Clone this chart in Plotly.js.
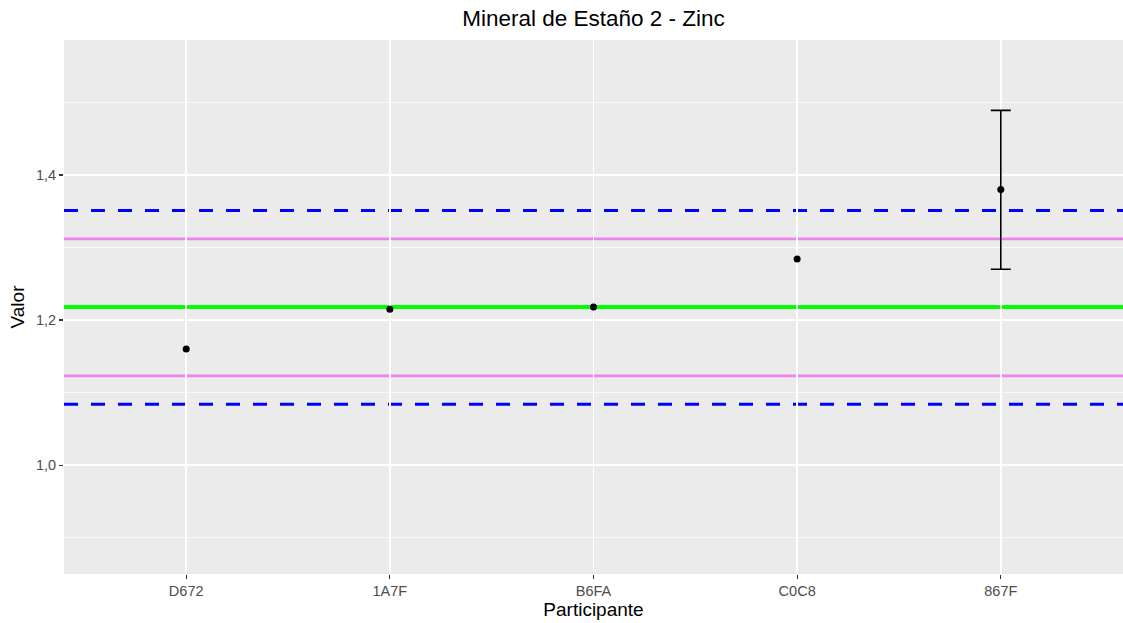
<!DOCTYPE html>
<html><head><meta charset="utf-8">
<script src="https://cdn.plot.ly/plotly-3.0.1.min.js"></script>
<style>html,body{margin:0;padding:0;background:#fff}#plot{width:1123px;height:623px}</style>
</head><body><div id="plot"></div>
<script>
const participants = ["D672", "1A7F", "B6FA", "C0C8", "867F"];
const values = [1.160, 1.215, 1.218, 1.284, 1.380];
const errPlus = [0, 0, 0, 0, 0.109];
const errMinus = [0, 0, 0, 0, 0.110];
const showErr = [false, false, false, false, true];
const assignedValue = 1.218;
const innerLimits = [1.123, 1.312];
const outerLimits = [1.084, 1.351];

const traces = [
  {
    x: participants.filter((p, i) => showErr[i]),
    y: values.filter((v, i) => showErr[i]),
    type: 'scatter', mode: 'markers',
    marker: {color: 'rgba(0,0,0,0)', size: 1},
    error_y: {type: 'data', symmetric: false,
      array: errPlus.filter((v, i) => showErr[i]),
      arrayminus: errMinus.filter((v, i) => showErr[i]),
      color: '#000', thickness: 1.6, width: 10},
    hoverinfo: 'skip', showlegend: false
  },
  {
    x: participants, y: values, type: 'scatter', mode: 'markers',
    marker: {color: '#000', size: 7}, showlegend: false
  }
];

const shapes = [];
innerLimits.forEach(v => shapes.push({type: 'line', xref: 'paper', yref: 'y', x0: 0, x1: 1, y0: v, y1: v,
  line: {color: '#EE82EE', width: 2.8}, layer: 'between'}));
shapes.push({type: 'line', xref: 'paper', yref: 'y', x0: 0, x1: 1, y0: assignedValue, y1: assignedValue,
  line: {color: '#00FF00', width: 4}, layer: 'between'});
outerLimits.forEach(v => shapes.push({type: 'line', xref: 'paper', yref: 'y', x0: 0, x1: 1, y0: v, y1: v,
  line: {color: '#0000FF', width: 3, dash: '14px,13px'}, layer: 'between'}));

const layout = {
  width: 1123, height: 623,
  margin: {l: 64, r: 0, t: 40, b: 49},
  paper_bgcolor: '#FFFFFF', plot_bgcolor: '#EBEBEB',
  separators: ',.',
  font: {family: 'Liberation Sans, Arial, sans-serif', color: '#000'},
  title: {text: 'Mineral de Estaño 2 - Zinc', x: 0.5, xref: 'paper', y: 0.971, yanchor: 'middle',
    font: {size: 22.5, color: '#000'}},
  xaxis: {
    type: 'category', categoryorder: 'array', categoryarray: participants, range: [-0.6, 4.6],
    showgrid: true, gridcolor: '#FFFFFF', gridwidth: 1.5,
    zeroline: false, showline: false,
    ticks: 'outside', ticklen: 4, tickcolor: '#333333', tickwidth: 1.2,
    tickfont: {size: 14.5, color: '#4D4D4D'},
    title: {text: 'Participante', font: {size: 19, color: '#000'}, standoff: 3}
  },
  yaxis: {
    range: [0.850, 1.586], tick0: 0, dtick: 0.2, tickformat: '.1f',
    showgrid: true, gridcolor: '#FFFFFF', gridwidth: 1.5,
    minor: {dtick: 0.1, tick0: 0.1, showgrid: true, gridcolor: '#FFFFFF', gridwidth: 0.7, ticks: ''},
    zeroline: false, showline: false,
    ticks: 'outside', ticklen: 4, tickcolor: '#333333', tickwidth: 1.2,
    tickfont: {size: 14.5, color: '#4D4D4D'},
    title: {text: 'Valor', font: {size: 19, color: '#000'}, standoff: 6}
  },
  shapes: shapes
};

Plotly.newPlot('plot', traces, layout, {displayModeBar: false, staticPlot: true});
</script></body></html>
